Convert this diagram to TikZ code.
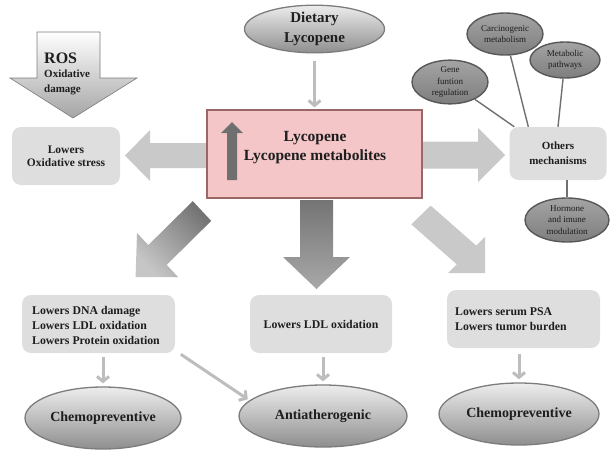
\documentclass[tikz,border=0pt]{standalone}
\usepackage{fontspec}
\setmainfont{Liberation Serif}
\usetikzlibrary{shapes.geometric,arrows.meta,calc}
\definecolor{boxgray}{HTML}{DEDEDE}
\definecolor{blockgray}{HTML}{C9C9C9}
\definecolor{arrgray}{HTML}{BDBDBD}
\definecolor{pinkfill}{HTML}{F4C6C8}
\definecolor{pinkrim}{HTML}{9A6666}
\definecolor{txt}{HTML}{1E1E1E}
\definecolor{elltop}{HTML}{EDEDED}
\definecolor{ellbot}{HTML}{8E8E8E}
\definecolor{ellrim}{HTML}{7C7C7C}
\definecolor{darktop}{HTML}{A4A4A4}
\definecolor{darkbot}{HTML}{7E7E7E}
\definecolor{darkrim}{HTML}{585858}
\definecolor{linegray}{HTML}{707070}
\definecolor{uparr}{HTML}{6F6F6F}
\definecolor{shadedark}{HTML}{747474}
\definecolor{shadelight}{HTML}{C6C6C6}
\newcommand{\myfs}[2]{\fontsize{#1}{#2}\selectfont}
\begin{document}
\begin{tikzpicture}[x=1pt,y=-1pt,
  every node/.style={inner sep=0pt, text=txt, align=center},
  softbox/.style={fill=boxgray, rounded corners=9pt},
  mainbox/.style={fill=pinkfill, draw=pinkrim, line width=1.2pt},
  bigell/.style={ellipse, draw=ellrim, line width=1.3pt, top color=elltop, bottom color=ellbot, font=\myfs{14}{17}\bfseries},
  smallell/.style={ellipse, draw=darkrim, line width=1.4pt, top color=darktop, bottom color=darkbot, font=\myfs{9}{11.5}},
  thinarr/.style={draw=arrgray, line width=3pt, -{Straight Barb[length=5pt,width=12pt]}},
  thinline/.style={draw=linegray, line width=1.4pt},
  boxtxt/.style={font=\myfs{11.8}{15}\bfseries}
]
\useasboundingbox (0,0) rectangle (611,450);

% ROS block arrow
\path[draw=ellrim, line width=0.6pt, top color=white, bottom color=ellbot!80]
  (37,32) -- (100,32) -- (100,78) -- (137,78) -- (73,118) -- (10,78) -- (37,78) -- cycle;
\node[anchor=west, font=\myfs{16}{18}\bfseries] (rostxt) at (44,58) {ROS};
\node[anchor=west, align=left, font=\myfs{11}{15}\bfseries] (rossub) at (44,82.5) {Oxidative\\damage};

% left and right block arrows (behind main box)
\fill[blockgray] (210,143) -- (150,143) -- (150,130) -- (125,155.5) -- (150,181) -- (150,168) -- (210,168) -- cycle;
\fill[blockgray] (418,141.5) -- (478,141.5) -- (478,128) -- (505,155) -- (478,182) -- (478,168.5) -- (418,168.5) -- cycle;

% main box
\node[mainbox, minimum width=215, minimum height=88] (main) at (314.5,154) {};
\fill[uparr] (227,180) -- (227,133) -- (221,133) -- (232,122) -- (243,133) -- (237,133) -- (237,180) -- cycle;
\node[font=\myfs{15.5}{19}\bfseries] (maintxt) at (315,148) {Lycopene\\Lycopene metabolites};

% dietary lycopene
\node[bigell, minimum width=140, minimum height=44, font=\myfs{15}{20}\bfseries] (diet) at (314.5,29) {Dietary\\Lycopene};
\draw[thinarr, shorten <=8pt, shorten >=2pt] (diet.south) -- (main.north);

% lowers oxidative stress
\node[softbox, minimum width=108, minimum height=58, font=\myfs{11.5}{13}\bfseries] (oxs) at (66,156) {Lowers\\Oxidative stress};

% others mechanisms
\node[softbox, minimum width=97, minimum height=53, font=\myfs{11}{15}\bfseries] (others) at (558,153.5) {Others\\mechanisms};
\node[smallell, minimum width=76, minimum height=40] (gene) at (450,82) {Gene\\funtion\\regulation};
\node[smallell, minimum width=76, minimum height=42] (carc) at (505,34) {Carcinogenic\\metabolism};
\node[smallell, minimum width=70, minimum height=36] (metab) at (565,60) {Metabolic\\pathways};
\node[smallell, minimum width=84, minimum height=44] (horm) at (567,220) {Hormone\\and imune\\modulation};
\draw[thinline] (gene) -- ([xshift=5pt]others.north west);
\draw[thinline] (carc) -- ([xshift=19pt]others.north west);
\draw[thinline] (metab) -- (others.north);
\draw[thinline] (horm.north) -- (horm.north |- others.south);

% lower block arrows
\shade[top color=shadedark, bottom color=shadelight, shading angle=-45]
  (192.8,201.1) -- (148.3,245.1) -- (137,233) -- (135.6,277) -- (178,277) -- (166.7,264.9) -- (211.2,220.9) -- cycle;
\shade[top color=shadedark, bottom color=shadelight!85!black]
  (300,200) -- (300,257) -- (283,257) -- (316.5,289) -- (350,257) -- (333,257) -- (333,200) -- cycle;
\fill[blockgray]
  (430.7,205.6) -- (476.2,245.6) -- (485,237) -- (485,273) -- (448,273) -- (456.8,264.4) -- (411.3,224.4) -- cycle;

% lower boxes
\node[softbox, minimum width=153, minimum height=58] (bl) at (98.5,324) {};
\node[anchor=west, align=left, boxtxt] (bltxt) at (32,325) {Lowers DNA damage\\Lowers LDL oxidation\\Lowers Protein  oxidation};
\node[softbox, minimum width=142, minimum height=58, boxtxt] (bc) at (321,324) {Lowers LDL oxidation};
\node[softbox, minimum width=153, minimum height=58] (br) at (523.5,319) {};
\node[anchor=west, align=left, boxtxt] (brtxt) at (455,319) {Lowers serum  PSA\\Lowers tumor burden};

% outcome ellipses
\node[bigell, minimum width=156, minimum height=62] (chemo1) at (103,418) {Chemopreventive};
\node[bigell, minimum width=168, minimum height=62] (anti) at (323,416) {Antiatherogenic};
\node[bigell, minimum width=160, minimum height=62] (chemo2) at (519,414) {Chemopreventive};

\draw[thinarr, shorten <=4pt, shorten >=3pt] (chemo1.north |- bl.south) -- (chemo1.north);
\draw[thinarr, shorten <=2pt, shorten >=2pt] ([xshift=4pt]bl.south east) -- (anti.168);
\draw[thinarr, shorten <=4pt, shorten >=3pt] (anti.north |- bc.south) -- (anti.north);
\draw[thinarr, shorten <=6pt, shorten >=3pt] (chemo2.north |- br.south) -- (chemo2.north);
\end{tikzpicture}
\end{document}
